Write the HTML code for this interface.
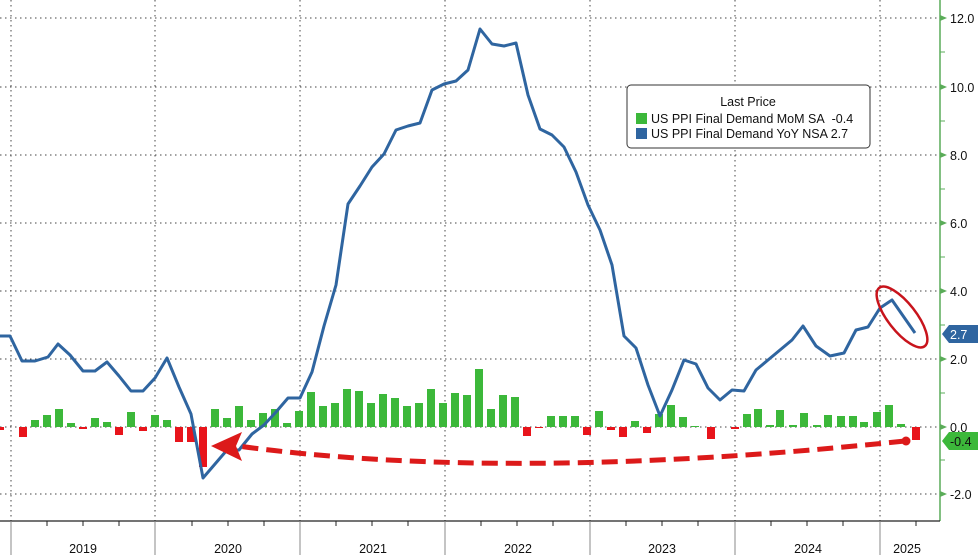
<!DOCTYPE html>
<html><head><meta charset="utf-8"><style>
html,body{margin:0;padding:0;background:#fff;}
svg{display:block;font-family:"Liberation Sans",sans-serif;}
</style></head><body>
<svg width="978" height="555" viewBox="0 0 978 555" xmlns="http://www.w3.org/2000/svg">
<rect width="978" height="555" fill="#fff"/>
<g stroke="#444" stroke-width="1" stroke-dasharray="1.5,3.5">
<line x1="0" y1="18" x2="940" y2="18"/><line x1="0" y1="87" x2="940" y2="87"/>
<line x1="0" y1="155" x2="940" y2="155"/><line x1="0" y1="223" x2="940" y2="223"/>
<line x1="0" y1="291" x2="940" y2="291"/><line x1="0" y1="359" x2="940" y2="359"/>
<line x1="0" y1="427" x2="940" y2="427"/><line x1="0" y1="494" x2="940" y2="494"/>
<line x1="11" y1="0" x2="11" y2="521"/><line x1="155" y1="0" x2="155" y2="521"/>
<line x1="300" y1="0" x2="300" y2="521"/><line x1="445" y1="0" x2="445" y2="521"/>
<line x1="590" y1="0" x2="590" y2="521"/><line x1="735" y1="0" x2="735" y2="521"/>
<line x1="880" y1="0" x2="880" y2="521"/>
</g>
<g fill="#e8141b">
<rect x="-2" y="427" width="6" height="3"/>
<rect x="19" y="427" width="8" height="10"/><rect x="79" y="427" width="8" height="2"/>
<rect x="115" y="427" width="8" height="8"/><rect x="139" y="427" width="8" height="4"/>
<rect x="175" y="427" width="8" height="15"/><rect x="187" y="427" width="8" height="15"/>
<rect x="199" y="427" width="8" height="40"/>
<rect x="523" y="427" width="8" height="9"/><rect x="535" y="427" width="8" height="1"/>
<rect x="583" y="427" width="8" height="8"/><rect x="607" y="427" width="8" height="3"/>
<rect x="619" y="427" width="8" height="10"/><rect x="643" y="427" width="8" height="6"/>
<rect x="707" y="427" width="8" height="12"/><rect x="731" y="427" width="8" height="2"/>
<rect x="912" y="427" width="8" height="13"/>
</g>
<g fill="#3cb83a">
<rect x="31" y="420" width="8" height="7"/><rect x="43" y="415" width="8" height="12"/>
<rect x="55" y="409" width="8" height="18"/><rect x="67" y="423" width="8" height="4"/>
<rect x="91" y="418" width="8" height="9"/><rect x="103" y="422" width="8" height="5"/>
<rect x="127" y="412" width="8" height="15"/><rect x="151" y="415" width="8" height="12"/>
<rect x="163" y="420" width="8" height="7"/>
<rect x="211" y="409" width="8" height="18"/><rect x="223" y="418" width="8" height="9"/>
<rect x="235" y="406" width="8" height="21"/><rect x="247" y="420" width="8" height="7"/>
<rect x="259" y="413" width="8" height="14"/><rect x="271" y="409" width="8" height="18"/>
<rect x="283" y="423" width="8" height="4"/><rect x="295" y="411" width="8" height="16"/>
<rect x="307" y="392" width="8" height="35"/><rect x="319" y="406" width="8" height="21"/>
<rect x="331" y="403" width="8" height="24"/><rect x="343" y="389" width="8" height="38"/>
<rect x="355" y="391" width="8" height="36"/><rect x="367" y="403" width="8" height="24"/>
<rect x="379" y="394" width="8" height="33"/><rect x="391" y="398" width="8" height="29"/>
<rect x="403" y="406" width="8" height="21"/><rect x="415" y="403" width="8" height="24"/>
<rect x="427" y="389" width="8" height="38"/><rect x="439" y="403" width="8" height="24"/>
<rect x="451" y="393" width="8" height="34"/><rect x="463" y="395" width="8" height="32"/>
<rect x="475" y="369" width="8" height="58"/><rect x="487" y="409" width="8" height="18"/>
<rect x="499" y="395" width="8" height="32"/><rect x="511" y="397" width="8" height="30"/>
<rect x="547" y="416" width="8" height="11"/><rect x="559" y="416" width="8" height="11"/>
<rect x="571" y="416" width="8" height="11"/><rect x="595" y="411" width="8" height="16"/>
<rect x="631" y="421" width="8" height="6"/><rect x="655" y="414" width="8" height="13"/>
<rect x="667" y="405" width="8" height="22"/><rect x="679" y="417" width="8" height="10"/>
<rect x="691" y="426" width="8" height="1"/>
<rect x="743" y="414" width="8" height="13"/><rect x="754" y="409" width="8" height="18"/>
<rect x="766" y="425" width="8" height="2"/><rect x="776" y="410" width="8" height="17"/>
<rect x="789" y="425" width="8" height="2"/><rect x="800" y="413" width="8" height="14"/>
<rect x="813" y="425" width="8" height="2"/><rect x="824" y="415" width="8" height="12"/>
<rect x="837" y="416" width="8" height="11"/><rect x="849" y="416" width="8" height="11"/>
<rect x="860" y="422" width="8" height="5"/><rect x="873" y="412" width="8" height="15"/>
<rect x="885" y="405" width="8" height="22"/><rect x="897" y="424" width="8" height="3"/>
</g>
<polyline fill="none" stroke="#2f65a0" stroke-width="3" stroke-linejoin="round" points="0,336 10,336 22,361 35,361 48,357 58,344 70,355 83,371 95,371 107,362 119,376 131,391 143,391 155,378 167,358 179,387 191,414 203,478 215,464 227,450 239,450 252,434 264,425 276,412 288,398 300,398 312,372 324,326 336,285 348,204 360,186 372,167 384,154 396,130 408,126 420,123 432,90 444,84 456,81 468,70 480,29 492,44 504,46 516,43 528,95 540,129 552,135 564,147 576,172 588,205 600,230 612,265 624,336 636,348 648,385 660,416 672,390 684,360 696,364 708,388 720,400 732,390 744,391 756,370 768,360 780,350 792,340 803,326 816,346 830,356 844,353 856,330 868,327 880,308 892,300 915,333"/>
<path d="M905,441 Q507,483 238,446" fill="none" stroke="#dc1a1a" stroke-width="5" stroke-dasharray="16,8"/>
<polygon points="211,446 242,432 236,446 242,461" fill="#dc1a1a"/>
<circle cx="906" cy="441" r="4.5" fill="#dc1a1a"/>
<ellipse cx="902" cy="317" rx="37" ry="14" transform="rotate(52 902 317)" fill="none" stroke="#c8141c" stroke-width="2.5"/>
<rect x="627" y="85" width="243" height="63" rx="4" fill="#fff" stroke="#333" stroke-width="1"/>
<text x="748" y="106" font-size="12.5" text-anchor="middle" fill="#111">Last Price</text>
<rect x="636" y="113" width="11" height="11" fill="#3cb83a"/>
<text x="651" y="123" font-size="12.5" fill="#111">US PPI Final Demand MoM SA&#160;&#160;-0.4</text>
<rect x="636" y="128" width="11" height="11" fill="#2f65a0"/>
<text x="651" y="138" font-size="12.5" fill="#111">US PPI Final Demand YoY NSA 2.7</text>
<line x1="940" y1="0" x2="940" y2="521" stroke="#5aac58" stroke-width="1.5"/>
<g fill="#5aac58">
<polygon points="940,15 947,18 940,21"/><polygon points="940,84 947,87 940,90"/>
<polygon points="940,152 947,155 940,158"/><polygon points="940,220 947,223 940,226"/>
<polygon points="940,288 947,291 940,294"/><polygon points="940,356 947,359 940,362"/>
<polygon points="940,424 947,427 940,430"/><polygon points="940,491 947,494 940,497"/>
</g>
<g stroke="#5aac58" stroke-width="1">
<line x1="940" y1="52" x2="945" y2="52"/><line x1="940" y1="121" x2="945" y2="121"/>
<line x1="940" y1="189" x2="945" y2="189"/><line x1="940" y1="257" x2="945" y2="257"/>
<line x1="940" y1="325" x2="945" y2="325"/><line x1="940" y1="393" x2="945" y2="393"/>
<line x1="940" y1="460" x2="945" y2="460"/>
</g>
<g font-size="12.5" fill="#111">
<text x="950" y="23">12.0</text><text x="950" y="92">10.0</text>
<text x="950" y="160">8.0</text><text x="950" y="228">6.0</text>
<text x="950" y="296">4.0</text><text x="950" y="364">2.0</text>
<text x="950" y="432">0.0</text><text x="950" y="499">-2.0</text>
</g>
<polygon points="942,334 949,325 978,325 978,343 949,343" fill="#2f65a0"/>
<text x="950" y="339" font-size="12.5" fill="#fff">2.7</text>
<polygon points="942,441 949,432 978,432 978,450 949,450" fill="#3cb83a"/>
<text x="950" y="446" font-size="12.5" fill="#111">-0.4</text>
<line x1="0" y1="521" x2="940" y2="521" stroke="#222" stroke-width="1.2"/>
<g stroke="#888" stroke-width="1">
<line x1="11" y1="521" x2="11" y2="555"/><line x1="155" y1="521" x2="155" y2="555"/>
<line x1="300" y1="521" x2="300" y2="555"/><line x1="445" y1="521" x2="445" y2="555"/>
<line x1="590" y1="521" x2="590" y2="555"/><line x1="735" y1="521" x2="735" y2="555"/>
<line x1="880" y1="521" x2="880" y2="555"/>
</g>
<g stroke="#222" stroke-width="1">
<line x1="47" y1="521" x2="47" y2="526"/><line x1="83" y1="521" x2="83" y2="526"/><line x1="119" y1="521" x2="119" y2="526"/>
<line x1="192" y1="521" x2="192" y2="526"/><line x1="228" y1="521" x2="228" y2="526"/><line x1="264" y1="521" x2="264" y2="526"/>
<line x1="336" y1="521" x2="336" y2="526"/><line x1="372" y1="521" x2="372" y2="526"/><line x1="408" y1="521" x2="408" y2="526"/>
<line x1="481" y1="521" x2="481" y2="526"/><line x1="517" y1="521" x2="517" y2="526"/><line x1="553" y1="521" x2="553" y2="526"/>
<line x1="626" y1="521" x2="626" y2="526"/><line x1="662" y1="521" x2="662" y2="526"/><line x1="698" y1="521" x2="698" y2="526"/>
<line x1="771" y1="521" x2="771" y2="526"/><line x1="807" y1="521" x2="807" y2="526"/><line x1="843" y1="521" x2="843" y2="526"/>
<line x1="916" y1="521" x2="916" y2="526"/>
</g>
<g font-size="12.5" fill="#111" text-anchor="middle">
<text x="83" y="553">2019</text><text x="228" y="553">2020</text><text x="373" y="553">2021</text>
<text x="518" y="553">2022</text><text x="662" y="553">2023</text><text x="808" y="553">2024</text>
<text x="907" y="553">2025</text>
</g>
</svg>
</body></html>
